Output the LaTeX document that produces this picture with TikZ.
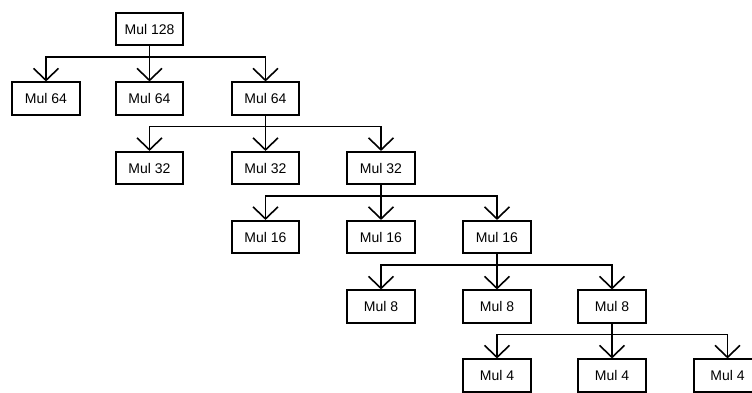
\documentclass[tikz,border=0pt]{standalone}
\usepackage{fontspec}
\setmainfont{Liberation Sans}
\usetikzlibrary{arrows.meta}
\begin{document}
\begin{tikzpicture}[x=1pt,y=-1pt,
  mulbox/.style={draw, line width=1.6pt, minimum width=67.5pt, minimum height=32.5pt, inner sep=0pt, font=\fontsize{14}{16}\selectfont},
  link/.style={line width=1.6pt, -{Straight Barb[length=12pt,width=25pt,line width=1.6pt]}}]
\useasboundingbox (0,0) rectangle (752,393);
\clip (0,0) rectangle (752,393);
% levels
\node[mulbox] (a) at (149.5,29) {Mul 128};
\node[mulbox] (b1) at (46,98.5) {Mul 64};
\node[mulbox] (b2) at (149.5,98.5) {Mul 64};
\node[mulbox] (b3) at (265.5,98.5) {Mul 64};
\node[mulbox] (c1) at (149.5,168) {Mul 32};
\node[mulbox] (c2) at (265.5,168) {Mul 32};
\node[mulbox] (c3) at (381,168) {Mul 32};
\node[mulbox] (d1) at (265.5,237) {Mul 16};
\node[mulbox] (d2) at (381,237) {Mul 16};
\node[mulbox] (d3) at (497,237) {Mul 16};
\node[mulbox] (e1) at (381,306.5) {Mul 8};
\node[mulbox] (e2) at (497,306.5) {Mul 8};
\node[mulbox] (e3) at (612,306.5) {Mul 8};
\node[mulbox] (f1) at (497,375.5) {Mul 4};
\node[mulbox] (f2) at (612,375.5) {Mul 4};
\node[mulbox] (f3) at (727.5,375.5) {Mul 4};
% connectors
\foreach \p/\k in {a/b, b3/c, c3/d, d3/e, e3/f}{
  \foreach \i in {1,2,3}{
    \draw[link] (\p.south) -- ++(0,11) -| (\k\i.north);
  }
}
\end{tikzpicture}
\end{document}
